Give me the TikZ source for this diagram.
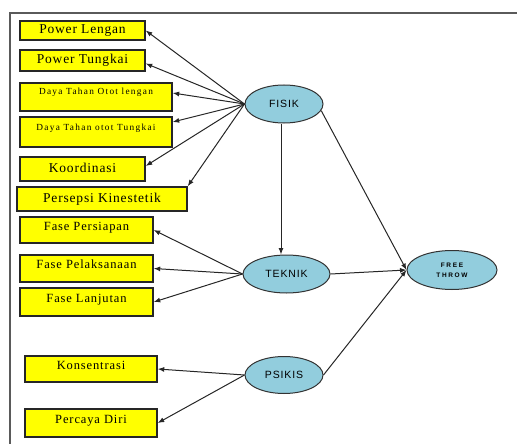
\documentclass[tikz,border=0pt]{standalone}
\usepackage{fontspec}
\setmainfont{Liberation Serif}
\setsansfont{Liberation Sans}
\newfontfamily\boxfont[LetterSpace=6]{Liberation Serif}
\newfontfamily\fasefont[LetterSpace=7]{Liberation Serif}
\newfontfamily\dayafont[LetterSpace=14]{Liberation Serif}
\newfontfamily\ovalfont[LetterSpace=8]{Liberation Sans}
\newfontfamily\freefont[LetterSpace=25]{Liberation Sans}
\usetikzlibrary{arrows,%
		arrows.meta,%
		shapes,%
		shapes.geometric}
\definecolor{kuning}{RGB}{255,255,0}
\definecolor{biru}{RGB}{146,205,221}
\definecolor{bingkai}{RGB}{90,90,90}

\begin{document}
\begin{tikzpicture}[x=1pt,y=-1pt,>={Latex[length=6.5pt,width=5pt]},
	box/.style={draw=black!85,line width=1.4pt,fill=kuning,inner sep=0pt},
	atas/.style={font=\boxfont\fontsize{13.5}{15}\selectfont,text height=9pt,text depth=3pt},
	fase/.style={font=\fasefont\fontsize{12.5}{14}\selectfont,text height=8pt,text depth=8pt},
	daya/.style={font=\dayafont\fontsize{9.3}{11}\selectfont,text height=6pt,text depth=10pt},
	oval/.style={ellipse,draw=black!80,line width=1pt,fill=biru,inner sep=0pt,font=\ovalfont\fontsize{10.5}{12}\selectfont},
	panah/.style={->,line width=1pt,black!85}]

\useasboundingbox (0,0) rectangle (517,444);
\draw[bingkai,line width=1.5pt] (10,446) -- (10,13) -- (519,13);

% kotak kuning
\node[box,atas,minimum width=125pt,minimum height=19pt] (pl) at (82.5,30.5) {Power Lengan};
\node[box,atas,minimum width=125pt,minimum height=21pt] (pt) at (82.5,60.5) {Power Tungkai};
\node[box,daya,minimum width=152pt,minimum height=28pt] (dl) at (96,97) {Daya Tahan Otot lengan};
\node[box,daya,minimum width=152pt,minimum height=30pt] (dt) at (96,132) {Daya Tahan otot Tungkai};
\node[box,atas,minimum width=125pt,minimum height=24pt] (ko) at (82.5,169) {Koordinasi};
\node[box,atas,minimum width=170pt,minimum height=24pt] (pk) at (102,199) {Persepsi Kinestetik};

\node[box,fase,minimum width=133pt,minimum height=26pt] (fp) at (86.5,230) {Fase Persiapan};
\node[box,fase,minimum width=133pt,minimum height=27pt] (fl) at (86.5,268.5) {Fase Pelaksanaan};
\node[box,fase,minimum width=133pt,minimum height=28pt] (fj) at (86.5,302) {Fase Lanjutan};

\node[box,fase,minimum width=132pt,minimum height=26pt] (kn) at (91,369) {Konsentrasi};
\node[box,fase,minimum width=132pt,minimum height=28pt] (pd) at (91,423) {Percaya Diri};

% elips
\node[oval,minimum width=78pt,minimum height=38pt] (fisik) at (284,104) {FISIK};
\node[oval,minimum width=87pt,minimum height=38pt] (teknik) at (286.5,274) {TEKNIK};
\node[oval,minimum width=78pt,minimum height=37pt] (psikis) at (284,375) {PSIKIS};
\node[oval,minimum width=90pt,minimum height=39pt,align=center,
	font=\freefont\bfseries\fontsize{6.5}{10}\selectfont] (free) at (452,270) {FREE\\THROW};

% panah
\draw[panah] (fisik.west) -- (pl.east);
\draw[panah] (fisik.west) -- ([yshift=-3pt]pt.east);
\draw[panah] (fisik.west) -- ([yshift=4pt]dl.east);
\draw[panah] (fisik.west) -- ([yshift=10pt]dt.east);
\draw[panah] (fisik.west) -- ([yshift=3pt]ko.east);
\draw[panah] (fisik.west) -- (pk.north east);

\draw[panah] (teknik.west) -- (fp.east);
\draw[panah] (teknik.west) -- (fl.east);
\draw[panah] (teknik.west) -- (fj.east);

\draw[panah] (psikis.west) -- (kn.east);
\draw[panah] (psikis.west) -- (pd.east);

\draw[panah] ([xshift=-3pt]fisik.south) -- ([xshift=-3pt]fisik.south |- teknik.north);
\draw[panah] (fisik.-10) -- (free.west);
\draw[panah] (teknik.east) -- (free.west);
\draw[panah] (psikis.east) -- (free.west);

\end{tikzpicture}
\end{document}
